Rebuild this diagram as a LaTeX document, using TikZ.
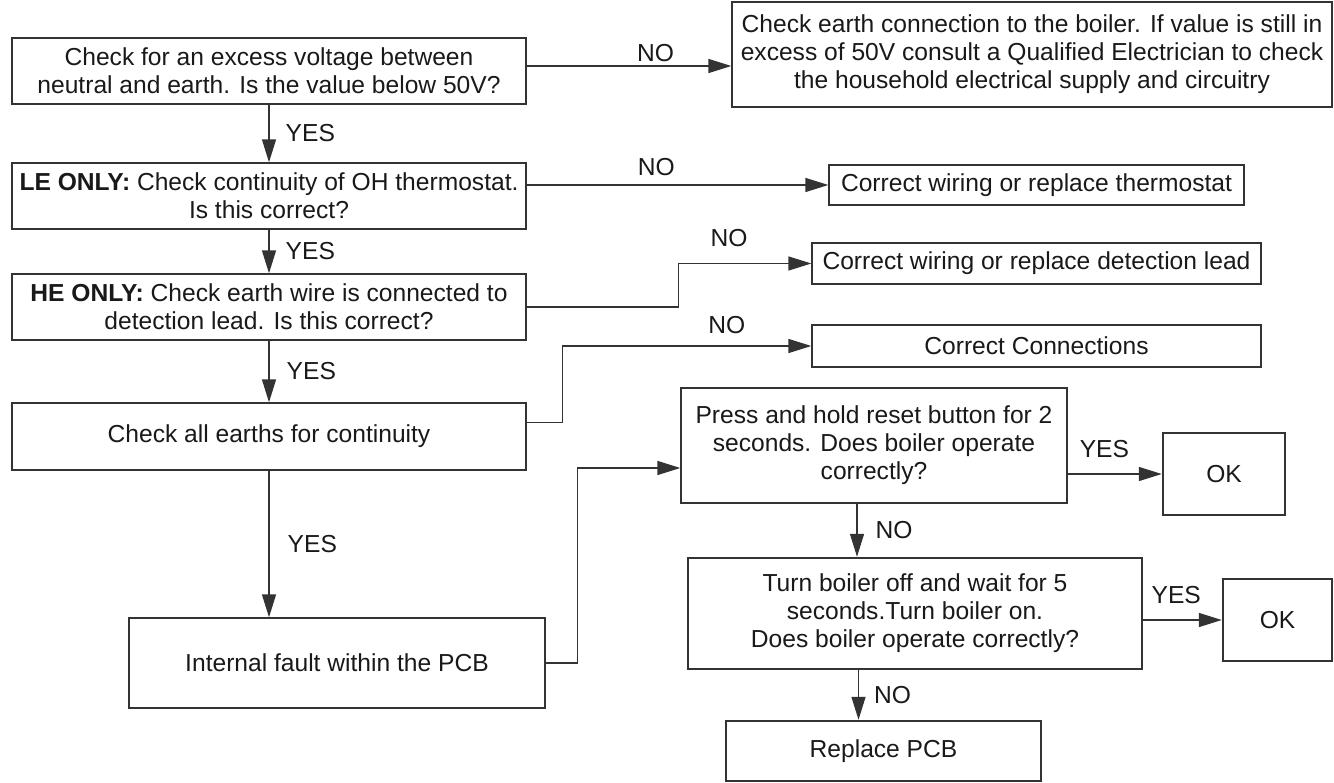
\documentclass[tikz,border=0pt]{standalone}
\usepackage{fontspec}
\setmainfont{Liberation Sans}
\usepackage{tikz}
\usetikzlibrary{positioning,arrows.meta}

\begin{document}
\begin{tikzpicture}[
x=0.02cm, y=-0.02cm,
box/.style={
    rectangle,
    draw=black!80,
    line width=0.8pt,
    inner sep=0pt,
    align=center,
    text=black!90,
    font=\fontsize{14}{16}\selectfont
},
heavybox/.style={
    box,
    line width=1.4pt
},
line/.style={
    -{Triangle[length=0.46cm,width=0.28cm]},
    draw=black!80,
    line width=0.8pt
},
lbl/.style={
    inner sep=0pt,
    text=black!90,
    font=\fontsize{14}{16}\selectfont
}
]
\useasboundingbox (0,0) rectangle (1334,783);
\clip (0,0) rectangle (1334,783);

% Left column
\node[box,minimum width=10.28cm,minimum height=1.32cm] (voltage) at (269,71)
{Check for an excess voltage between\\neutral and earth. Is the value below 50V?};

\node[box,minimum width=10.28cm,minimum height=1.32cm] (leonly) at (269,196)
{\textbf{LE ONLY:} Check continuity of OH thermostat.\\Is this correct?};

\node[box,minimum width=10.28cm,minimum height=1.32cm] (heonly) at (269,307)
{\textbf{HE ONLY:} Check earth wire is connected to\\detection lead. Is this correct?};

\node[box,minimum width=10.28cm,minimum height=1.34cm] (earths) at (269,436.5)
{Check all earths for continuity};

\node[box,minimum width=8.32cm,minimum height=1.8cm] (fault) at (337,663)
{Internal fault within the PCB};

% Right column
\node[box,minimum width=12cm,minimum height=2.1cm] (earthchk) at (1032,54.5)
{Check earth connection to the boiler. If value is still in\\excess of 50V consult a Qualified Electrician to check\\the household electrical supply and circuitry};

\node[box,minimum width=8.3cm,minimum height=0.8cm] (thermo) at (1036.5,185)
{Correct wiring or replace thermostat};

\node[box,minimum width=8.98cm,minimum height=0.82cm] (detlead) at (1036.5,263.5)
{Correct wiring or replace detection lead};

\node[box,minimum width=8.98cm,minimum height=0.84cm] (conns) at (1036.5,346)
{Correct Connections};

% Reset steps
\node[box,minimum width=7.72cm,minimum height=2.3cm] (reset) at (874,445.5)
{Press and hold reset button for 2\\seconds. Does boiler operate\\correctly?};

\node[heavybox,minimum width=2.44cm,minimum height=1.64cm] (okone) at (1224,474) {OK};

\node[heavybox,minimum width=9.08cm,minimum height=2.22cm] (restart) at (915,613.5)
{Turn boiler off and wait for 5\\seconds.Turn boiler on.\\Does boiler operate correctly?};

\node[heavybox,minimum width=2.18cm,minimum height=1.64cm] (oktwo) at (1277.5,620) {OK};

\node[heavybox,minimum width=6.3cm,minimum height=1.2cm] (replace) at (883.5,751)
{Replace PCB};

% Connections
\draw[line] ([yshift=0.1cm]voltage.east) -- node[lbl,pos=0.63,above=2pt] (no1) {NO}
    ([yshift=0.1cm]voltage.east -| earthchk.west);
\draw[line] (voltage.south) -- node[lbl,right=0.32cm] (yes1) {YES} (leonly.north);

\draw[line] (leonly.east |- thermo.west) -- node[lbl,pos=0.43,above=0.18cm] (no2) {NO} (thermo.west);
\draw[line] (leonly.south) -- node[lbl,right=0.32cm] (yes2) {YES} (heonly.north);

\draw[line] (heonly.east) -- ++(152,0) |- node[lbl,pos=0.69,above=0.32cm] (no3) {NO} (detlead.west);
\draw[line] (heonly.south) -- node[lbl,right=0.34cm] (yes3) {YES} (earths.north);

\draw[line] ([yshift=0.28cm]earths.east) -- ++(36,0) |- node[lbl,pos=0.83,above=0.24cm] (no4) {NO} (conns.west);
\draw[line] (earths.south) -- node[lbl,right=0.36cm] (yes4) {YES} (earths.south |- fault.north);

\draw[line] (fault.east) -- ++(32,0) |- ([yshift=-0.45cm]reset.west);

\draw[line] (reset.east |- okone.west) -- node[lbl,pos=0.39,above=0.32cm] (yes5) {YES} (okone.west);
\draw[line] ([xshift=-0.34cm]reset.south) -- node[lbl,right=0.36cm] (no5) {NO}
    ([xshift=-0.34cm]reset.south |- restart.north);

\draw[line] (restart.south -| replace.north) ++(-0.5cm,0) coordinate (drop)
    -- node[lbl,right=0.3cm] (no6) {NO} (drop |- replace.north);

\draw[line] (restart.east |- oktwo.west) -- node[lbl,pos=0.42,above=0.32cm] (yes6) {YES} (oktwo.west);

\end{tikzpicture}
\end{document}
